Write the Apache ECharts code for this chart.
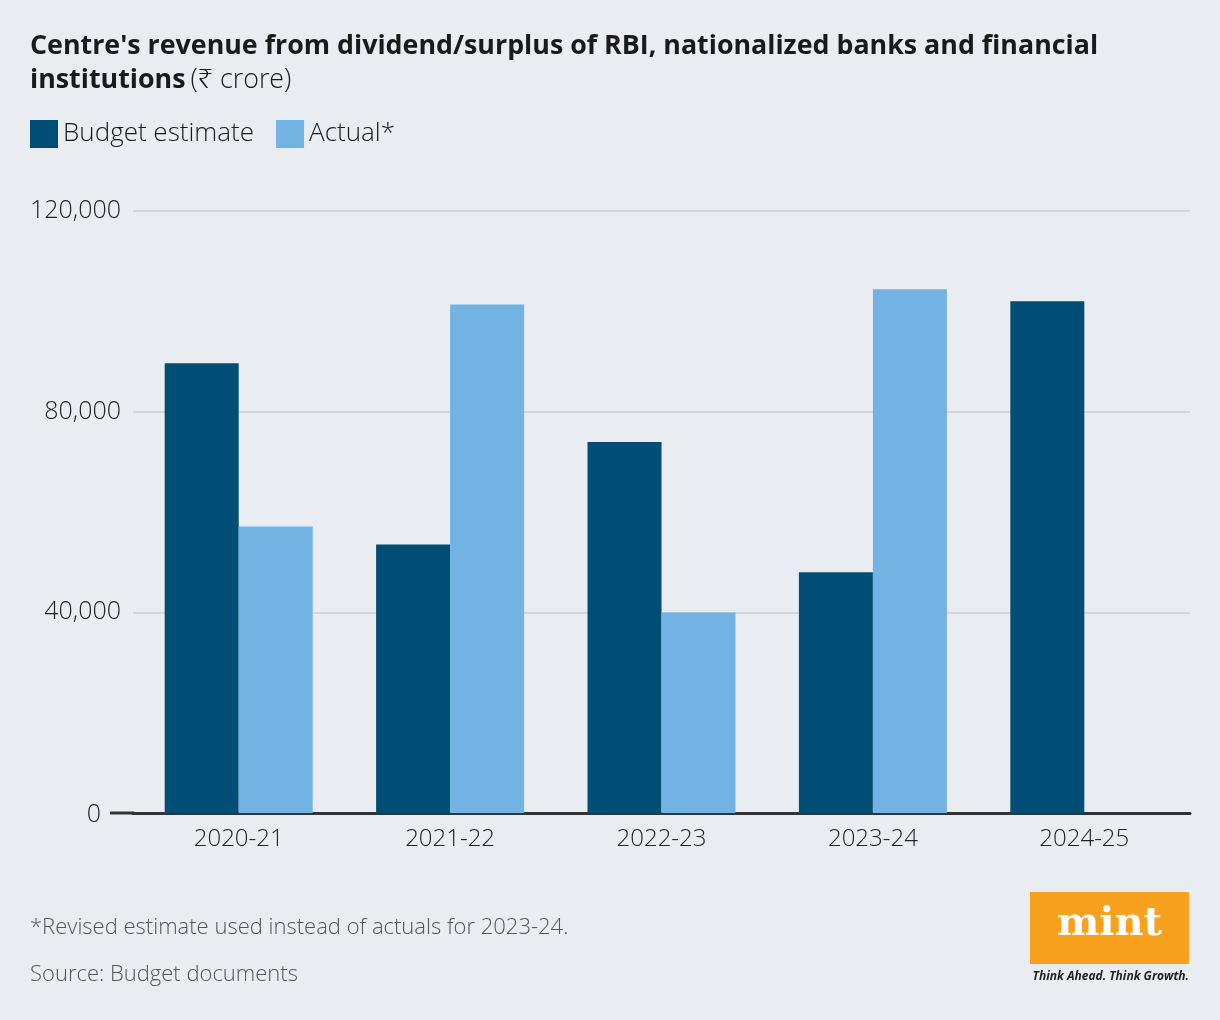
<!DOCTYPE html>
<html>
<head>
<meta charset="utf-8">
<script src="https://cdn.jsdelivr.net/npm/echarts@6/dist/echarts.min.js"></script>
<style>
html,body{margin:0;padding:0;background:#e9ecf1;}
#c{width:1220px;height:1020px;}
</style>
</head>
<body>
<div id="c"></div>
<script>
const categories = ['2020-21', '2021-22', '2022-23', '2023-24', '2024-25'];
const budgetEstimate = [89648, 53511, 73948, 48000, 102000];
const actual = [57128, 101353, 39961, 104407, null];
const yTicks = [0, 40000, 80000, 120000];

const chart = echarts.init(document.getElementById('c'));
const font = '"Open Sans", "Noto Sans", sans-serif';
chart.setOption({
  backgroundColor: '#e9ecf1',
  animation: false,
  title: {
    text: "{b|Centre's revenue from dividend/surplus of RBI, nationalized banks and financial}\n{b|institutions} {n|(₹ crore)}",
    left: 30, top: 29, padding: 0,
    textStyle: {
      rich: {
        b: { fontFamily: font, fontWeight: 'bold', fontSize: 26.8, color: '#1a1a1a', lineHeight: 34 },
        n: { fontFamily: font, fontWeight: 300, fontSize: 26.8, color: '#1a1a1a', lineHeight: 34 }
      }
    }
  },
  legend: {
    left: 30, top: 120, padding: 0,
    itemWidth: 28, itemHeight: 28, itemGap: 22,
    icon: 'rect',
    textStyle: { fontFamily: font, fontWeight: 300, fontSize: 26, color: '#1a1a1a', padding: [0, 0, 0, 0] },
    data: ['Budget estimate', 'Actual*']
  },
  grid: { left: 133, right: 30, top: 211, bottom: 207, containLabel: false },
  xAxis: {
    type: 'category',
    data: categories,
    axisLine: { lineStyle: { color: '#333', width: 3 } },
    axisTick: { show: false },
    axisLabel: { fontFamily: font, fontWeight: 300, fontSize: 24, color: '#222', margin: 14 }
  },
  yAxis: {
    type: 'value',
    min: yTicks[0], max: yTicks[yTicks.length - 1], interval: 40000,
    axisLine: { show: false },
    axisTick: { show: false },
    splitLine: { lineStyle: { color: '#d3d6db', width: 2 } },
    axisLabel: {
      fontFamily: font, fontWeight: 300, fontSize: 25, color: '#222', margin: 12,
      formatter: v => v === 0 ? '{z|0}' : v.toLocaleString('en-US'),
      rich: { z: { fontFamily: font, fontWeight: 300, fontSize: 25, color: '#222', padding: [3, 20, 0, 0] } }
    }
  },
  series: [
    { name: 'Budget estimate', type: 'bar', data: budgetEstimate, barGap: '0%', barCategoryGap: '30%',
      itemStyle: { color: '#004e75' } },
    { name: 'Actual*', type: 'bar', data: actual, barGap: '0%', barCategoryGap: '30%',
      itemStyle: { color: '#72b3e3' } }
  ],
  graphic: [
    { type: 'line', shape: { x1: 110, y1: 813, x2: 134, y2: 813 }, style: { stroke: '#333', lineWidth: 3 } },
    { type: 'text', left: 30, top: 917, style: { text: '*Revised estimate used instead of actuals for 2023-24.', font: '300 22px "Open Sans", sans-serif', fill: '#555' } },
    { type: 'text', left: 30, top: 964, style: { text: 'Source: Budget documents', font: '300 22px "Open Sans", sans-serif', fill: '#555' } },
    { type: 'rect', shape: { x: 1030, y: 892, width: 159, height: 72 }, style: { fill: '#f7a11e' } },
    { type: 'text', x: 1109.5, y: 925, style: { text: 'mint', font: 'bold 40px "DejaVu Serif", "Liberation Serif", serif', fill: '#fff', align: 'center', verticalAlign: 'middle' } },
    { type: 'text', x: 1189, y: 977, style: { text: 'Think Ahead. Think Growth.', font: 'italic bold 12px "Open Sans", sans-serif', fill: '#222', align: 'right', verticalAlign: 'middle' } }
  ]
});
</script>
</body>
</html>
